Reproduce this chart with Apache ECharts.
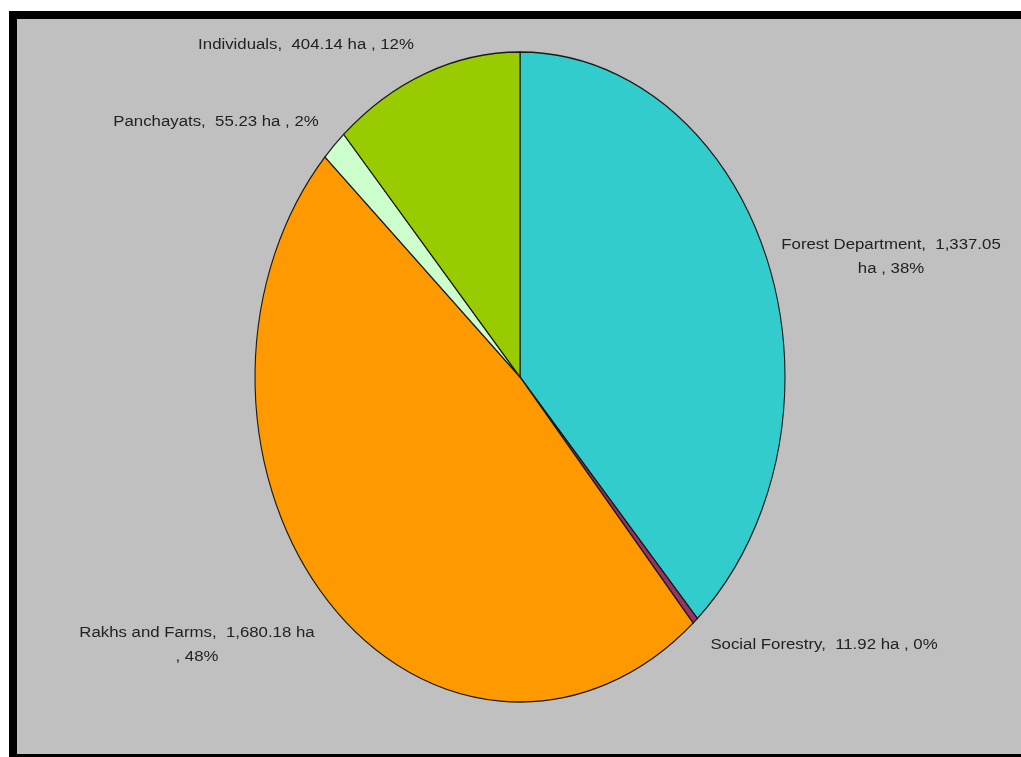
<!DOCTYPE html>
<html>
<head>
<meta charset="utf-8">
<script src="https://cdn.jsdelivr.net/npm/echarts@6/dist/echarts.min.js"></script>
<style>
  html, body { margin: 0; padding: 0; background: #ffffff; }
  #chart { width: 1021px; height: 757px; }
</style>
</head>
<body>
<div id="chart"></div>
<script>
// ---- data ----
const categories = ['Forest Department', 'Social Forestry', 'Rakhs and Farms', 'Panchayats', 'Individuals'];
const areaHa = [1337.05, 11.92, 1680.18, 55.23, 404.14];
const unit = 'ha';

// ---- styling / layout ----
const sliceColors = ['#33CCCC', '#993366', '#FF9900', '#CCFFCC', '#99CC00'];
const pieLayout = { cx: 520, cy: 377, rx: 265, ry: 325 };
// label text centres and line-break style
const labelLayout = [
  { x: 891, y: 257, brk: 'beforeUnit' },
  { x: 824, y: 645, brk: 'none' },
  { x: 197, y: 645, brk: 'beforePct' },
  { x: 216, y: 122, brk: 'none' },
  { x: 306, y: 45,  brk: 'none' }
];

const total = areaHa.reduce((a, b) => a + b, 0);
const fmt = v => v.toLocaleString('en-US', { minimumFractionDigits: 2, maximumFractionDigits: 2 });
function labelText(i) {
  const pct = Math.round(areaHa[i] / total * 100) + '%';
  const a = categories[i] + ',  ' + fmt(areaHa[i]);
  const b = unit + ' , ' + pct;
  const br = labelLayout[i].brk;
  if (br === 'beforeUnit') return a + '\n' + b;
  if (br === 'beforePct') return a + ' ' + unit + '\n, ' + pct;
  return a + ' ' + b;
}

const chart = echarts.init(document.getElementById('chart'), null, { renderer: 'canvas' });

function renderItem(params, api) {
  const i = params.dataIndex;
  const v = api.value(0);
  let before = 0;
  for (let k = 0; k < i; k++) before += areaHa[k];
  const a0 = before / total * Math.PI * 2 - Math.PI / 2;
  const a1 = (before + v) / total * Math.PI * 2 - Math.PI / 2;
  const L = pieLayout;
  const lab = labelLayout[i];
  return {
    type: 'group',
    children: [
      {
        type: 'sector',
        x: L.cx, y: L.cy,
        scaleY: L.ry / L.rx,
        shape: { cx: 0, cy: 0, r0: 0, r: L.rx, startAngle: a0, endAngle: a1, clockwise: true },
        style: { fill: sliceColors[i], stroke: '#1a1a1a', lineWidth: 1.1 }
      },
      {
        type: 'text',
        x: lab.x, y: lab.y,
        scaleX: 1.2,
        style: {
          text: labelText(i),
          x: 0, y: 0,
          align: 'center', verticalAlign: 'middle',
          font: '14px "Liberation Sans", Arial, sans-serif',
          lineHeight: 24,
          fill: '#222222'
        }
      }
    ]
  };
}

chart.setOption({
  backgroundColor: '#ffffff',
  animation: false,
  graphic: [
    { type: 'rect', z: -10, shape: { x: 9, y: 11, width: 1012, height: 746 }, style: { fill: '#000000' } },
    { type: 'rect', z: -9, shape: { x: 17, y: 19, width: 1004, height: 735 }, style: { fill: '#C0C0C0' } }
  ],
  series: [{
    type: 'custom',
    coordinateSystem: 'none',
    renderItem: renderItem,
    data: areaHa.map((v, i) => ({ name: categories[i], value: [v] })),
    silent: true
  }]
});
</script>
</body>
</html>
